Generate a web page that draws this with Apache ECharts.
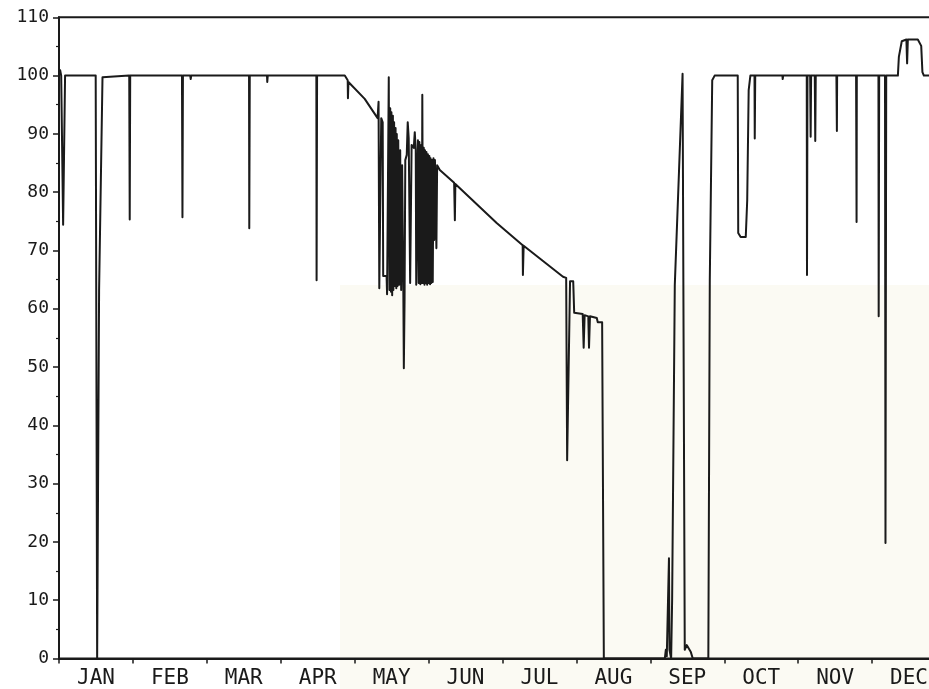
<!DOCTYPE html>
<html>
<head>
<meta charset="utf-8">
<script src="https://cdn.jsdelivr.net/npm/echarts@6/dist/echarts.min.js"></script>
<style>
html,body{margin:0;padding:0;background:#fff;}
#chart{width:929px;height:689px;}
</style>
</head>
<body>
<div id="chart"></div>
<script>
// Month labels (x axis categories)
const months = ['JAN','FEB','MAR','APR','MAY','JUN','JUL','AUG','SEP','OCT','NOV','DEC'];
// Y axis range / ticks
const yMin = 0, yMax = 110, yStep = 10;
const dayMax = 365;

// Series values as [day of year, level]
const janApr = [
  [0,100],[0.5,100.9],[0.9,100],[1.5,100],[1.7,74.4],[2.3,74.4],[2.5,100],
  [15.1,100],[15.7,0],[16.1,0],[16.5,63.2],[17.9,99.7],[18.4,100],
  [28.9,100],[29.1,75.3],[29.3,100],
  [50.6,100],[50.8,75.7],[51.0,100],
  [54.0,100],[54.2,99.4],[54.4,100],
  [78.2,100],[78.3,73.8],[78.5,100],
  [85.6,100],[85.7,98.9],[85.9,100],
  [105.9,100],[106.0,64.9],[106.2,100],
  [117.6,100]
];
const may = [
  [118.8,99.2],[118.9,96.1],[119.1,98.9],[125.8,96.0],[131.1,92.7],
  [131.5,95.5],[131.8,63.5],[132.4,63.5],[132.6,92.7],[133.2,92.0],[133.4,65.6],[134.8,65.6],[135.0,62.5],[135.5,62.5],
  [135.7,99.7],[136.0,63.2],[136.3,94.4],[136.6,62.9],[136.8,93.7],[137.1,62.3],[137.4,93.1],[137.6,63.2],[137.9,92.0],
  [138.2,63.9],[138.5,91.0],[138.8,63.5],[139.0,90.0],[139.3,63.9],[139.6,88.9],[140.0,64.1],[140.4,87.2],[140.8,63.2],
  [141.2,84.6],[141.7,62.7],[141.9,49.8],[142.2,61.5],[142.5,85.5],[143.1,86.4],[143.5,92.0],[143.9,89.3],[144.3,89.3],
  [144.5,64.4],[144.9,64.4],[145.1,88.1],[146.0,87.6],[146.4,90.3],[146.8,87.2],[147.0,64.1],[147.4,64.1],[147.7,88.9],
  [148.0,64.4],[148.3,88.6],[148.7,64.2],[149.0,88.1],[149.3,64.4],[149.5,96.7],[149.8,64.4],[150.1,87.6],[150.4,64.1],
  [150.6,87.2],[150.9,64.4],[151.2,86.9],[151.5,64.1],[151.8,86.5],[152.1,64.4],[152.4,86.2],[152.7,64.2],[152.9,85.8],
  [153.2,64.4],[153.5,85.5],[153.8,64.6],[154.1,85.8],[154.4,71.8],[154.7,85.5],[155.3,70.4],[155.6,84.6],[156.7,83.8]
];
const junAug = [
  [162.6,81.6],[162.9,75.2],[163.1,81.4],[180.1,74.7],[190.8,70.9],[190.9,65.8],[191.2,70.8],[207.4,65.5],[208.7,65.3],
  [209.1,34.0],[209.6,34.0],[210.3,64.7],[211.6,64.7],[212.0,59.3],[215.5,59.1],[215.9,53.3],[216.3,58.9],[217.8,58.7],
  [218.1,53.3],[218.5,58.7],[221.3,58.4],[221.7,57.7],[223.5,57.7],[224.2,0]
];
const sepDec = [
  [249.3,0],[249.7,1.5],[250.1,0.4],[250.9,0.6],[251.0,17.2],[251.2,1.5],[251.9,0],[252.3,10.0],[253.4,64.1],[255.0,82.1],
  [256.6,100.3],[256.9,100.3],[257.5,1.5],[258.3,2.3],[260.0,1.1],[260.8,0],[267.2,0],[267.8,64.9],[268.8,99.2],[269.8,100],
  [279.3,100],[279.5,73.0],[280.5,72.3],[282.6,72.3],[283.2,78.6],[283.8,97.5],[284.5,100],
  [286.2,100],[286.3,89.2],[286.5,100],
  [297.7,100],[297.8,99.4],[298.0,100],
  [307.7,100],[307.8,65.8],[308.0,100],
  [309.1,100],[309.3,89.5],[309.5,100],
  [311.0,100],[311.2,88.8],[311.4,100],
  [319.9,100],[320.1,90.5],[320.2,100],
  [328.0,100],[328.2,74.9],[328.3,100],
  [337.2,100],[337.3,58.7],[337.5,100],
  [339.9,100],[340.1,19.8],[340.4,100],
  [345.2,100],[345.6,103.2],[346.4,103.3],[346.8,105.9],[348.7,106.2],[349.0,102.1],[349.3,106.2],[353.4,106.2],
  [354.8,105.1],[355.3,100.6],[355.9,100],[365,100]
];

const seriesData = janApr.concat(may, junAug, sepDec);

const ink = '#1a1a1a';
const chart = echarts.init(document.getElementById('chart'), null, {renderer: 'canvas'});
chart.setOption({
  animation: false,
  backgroundColor: '#ffffff',
  graphic: [{
    type: 'rect', silent: true, z: -10,
    shape: {x: 340, y: 285, width: 600, height: 410},
    style: {fill: '#fbfaf3'}
  }],
  grid: {
    left: 59, top: 17.3, width: 887, height: 641.2,
    outerBoundsMode: 'none', containLabel: false,
    show: true, borderColor: ink, borderWidth: 2, backgroundColor: 'transparent'
  },
  xAxis: [
    {type: 'value', min: 0, max: dayMax, show: false, position: 'bottom'},
    {
      type: 'category', data: months, position: 'bottom', boundaryGap: true,
      axisLine: {show: true, lineStyle: {color: ink, width: 2}},
      axisTick: {show: true, interval: 0, length: 5, lineStyle: {color: ink, width: 1.5}},
      axisLabel: {interval: 0, margin: 10, color: '#1a1a1a', fontFamily: 'DejaVu Sans Mono', fontSize: 21},
      splitLine: {show: false}
    }
  ],
  yAxis: {
    type: 'value', min: yMin, max: yMax, interval: yStep,
    axisLine: {show: true, lineStyle: {color: ink, width: 2}},
    axisTick: {show: true, length: 6, lineStyle: {color: ink, width: 1.5}},
    minorTick: {show: true, splitNumber: 2, length: 3, lineStyle: {color: ink, width: 1.2}},
    axisLabel: {margin: 10, color: '#1a1a1a', fontFamily: 'DejaVu Sans Mono', fontSize: 18},
    splitLine: {show: false}
  },
  series: [{
    type: 'line', xAxisIndex: 0, yAxisIndex: 0,
    data: seriesData, showSymbol: false, symbol: 'none', sampling: null,
    lineStyle: {color: ink, width: 2, join: 'round', cap: 'round'},
    z: 3
  }]
});
</script>
</body>
</html>
